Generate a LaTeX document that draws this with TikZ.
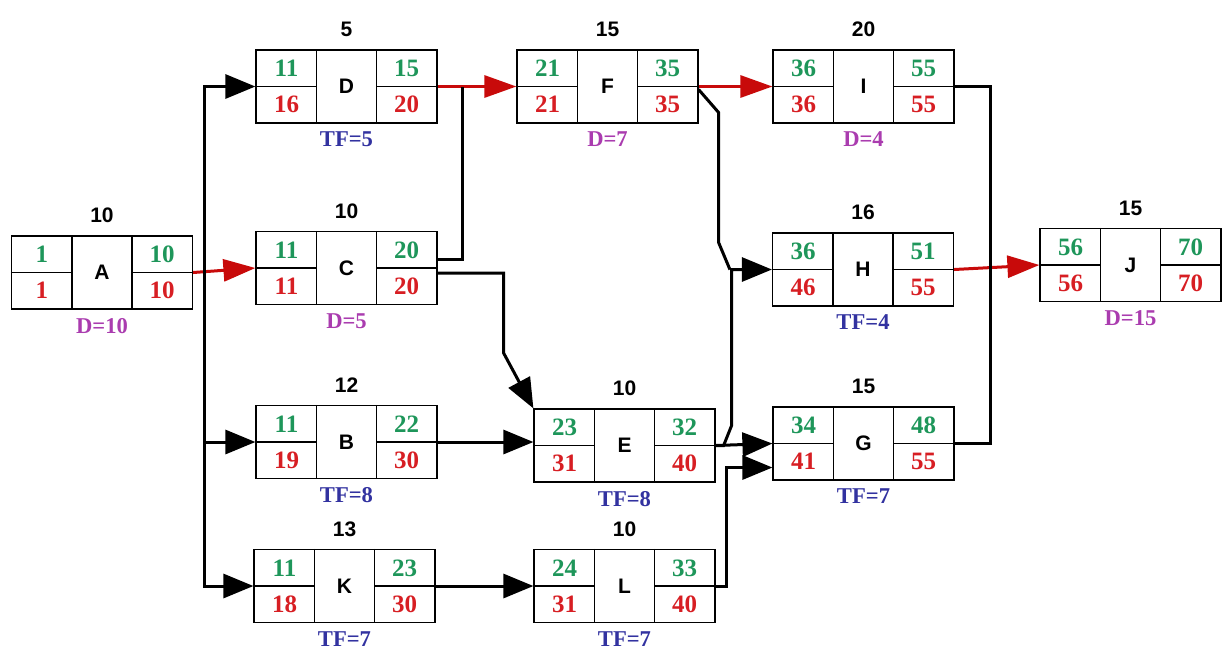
\documentclass[tikz,border=0pt]{standalone}
\usepackage{fontspec}
\setmainfont{Liberation Serif}
\setsansfont{Liberation Sans}
\usepackage{tikz}
\usetikzlibrary{arrows.meta,positioning,calc}
\definecolor{vert}{RGB}{30,150,90}
\definecolor{rouge}{RGB}{215,30,35}
\definecolor{rougefl}{RGB}{200,10,10}
\definecolor{bleutf}{RGB}{50,50,160}
\definecolor{violetd}{RGB}{170,60,175}
\newcommand{\TF}[1]{\textcolor{bleutf}{TF=#1}}
\newcommand{\DD}[1]{\textcolor{violetd}{D=#1}}
% #1 nom, #2 position, #3 lettre, #4 ES, #5 LS, #6 EF, #7 LF, #8 duree, #9 marge
\newcommand{\tache}[9]{%
  \node[boite] (#1) at (#2) {#3};
  \draw[fin] ($(#1.north)+(-30,0)$) -- ($(#1.south)+(-30,0)$);
  \draw[fin] ($(#1.north)+(30,0)$) -- ($(#1.south)+(30,0)$);
  \draw[fin] (#1.west) -- ++(62,0);
  \draw[fin] (#1.east) -- ++(-62,0);
  \node[tot] (#1-es) at ($(#1)+(-60,-18)$) {#4};
  \node[tard] (#1-ls) at ($(#1)+(-60,18)$) {#5};
  \node[tot] (#1-ef) at ($(#1)+(60,-18)$) {#6};
  \node[tard] (#1-lf) at ($(#1)+(60,18)$) {#7};
  \node[duree, above=6pt of #1] (#1-d) {#8};
  \node[marge, below=4pt of #1] (#1-m) {#9};
}

\begin{document}
\begin{tikzpicture}[x=0.5pt,y=-0.5pt,
  boite/.style={draw, line width=0.6pt, minimum width=90.5pt, minimum height=36.5pt,
    inner sep=0pt, font=\sffamily\bfseries\fontsize{10.5}{12}\selectfont},
  tot/.style={text=vert, inner sep=0pt, font=\bfseries\fontsize{12.5}{14}\selectfont},
  tard/.style={tot, text=rouge},
  duree/.style={inner sep=0pt, font=\sffamily\bfseries\fontsize{10.5}{12}\selectfont},
  marge/.style={inner sep=0pt, font=\bfseries\fontsize{11.3}{13}\selectfont},
  fin/.style={line width=0.6pt},
  lien/.style={line width=1.5pt},
  fleche/.style={lien, -{Triangle[length=15pt,width=12pt]}},
  critique/.style={lien, rougefl, -{Triangle[length=16pt,width=11pt]}}]
  \useasboundingbox (0,0) rectangle (1224,655);
  \tache{A}{102,272.5}{A}{1}{1}{10}{10}{10}{\DD{10}}
  \tache{D}{346.5,86.5}{D}{11}{16}{15}{20}{5}{\TF{5}}
  \tache{C}{346.5,268}{C}{11}{11}{20}{20}{10}{\DD{5}}
  \tache{B}{346.5,442}{B}{11}{19}{22}{30}{12}{\TF{8}}
  \tache{K}{344.5,586}{K}{11}{18}{23}{30}{13}{\TF{7}}
  \tache{F}{607.5,86.5}{F}{21}{21}{35}{35}{15}{\DD{7}}
  \tache{E}{624.5,445.5}{E}{23}{31}{32}{40}{10}{\TF{8}}
  \tache{L}{624.5,586}{L}{24}{31}{33}{40}{10}{\TF{7}}
  \tache{I}{863.5,86.5}{I}{36}{36}{55}{55}{20}{\DD{4}}
  \tache{H}{863,269.5}{H}{36}{46}{51}{55}{16}{\TF{4}}
  \tache{G}{863.5,443.5}{G}{34}{41}{48}{55}{15}{\TF{7}}
  \tache{J}{1130.5,265}{J}{56}{56}{70}{70}{15}{\DD{15}}
  % depart
  \coordinate (s) at ($(A.east)!0.19!(C.west)$);
  \draw[critique] (A.east) -- (C.west);
  \draw[fleche] (s) |- (D.west);
  \draw[fleche] (s) |- (B.west);
  \draw[fleche] (s) |- (K.west);
  % vers F et E
  \coordinate (cf) at ($(D.east)!0.3125!(F.west)$);
  \draw[critique] (D.east) -- (F.west);
  \draw[lien] ($(C.east)+(0,-9)$) -| (cf);
  \draw[fleche] ($(C.east)+(0,5)$) -- ++(66,0) -- ++(0,80) -- (E.north west);
  \draw[fleche] (B.east) -- (B.east -| E.west);
  \draw[fleche] (K.east) -- (L.west);
  % vers I, H et G
  \coordinate (h) at ($(H.west)+(-42,0)$);
  \draw[critique] (F.east) -- (I.west);
  \draw[lien] ($(F.east)+(0,3)$) -- ++(20,23) -- ++(0,130) -- (h);
  \draw[fleche] (E.east) -- ++(8,0) -- ++(8,-20) |- (H.west);
  \draw[fleche] (E.east) -- (G.west);
  \draw[fleche] (L.east) -- ++(11,0) |- ($(G.west)+(0,24)$);
  % vers J
  \coordinate (jj) at ($(H.east)!0.43!(J.west)$);
  \draw[critique] (H.east) -- (J.west);
  \draw[lien] (I.east) -| (jj);
  \draw[lien] (G.east) -| (jj);
\end{tikzpicture}
\end{document}
